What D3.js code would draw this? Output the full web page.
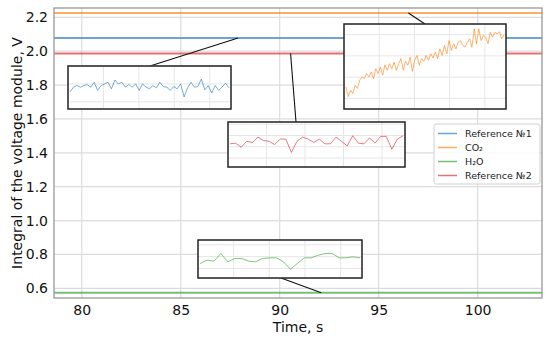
<!DOCTYPE html>
<html>
<head>
<meta charset="utf-8">
<script src="https://cdn.jsdelivr.net/npm/d3@7"></script>
<style>
  body { margin: 0; background: #fff; }
  text { font-family: "DejaVu Sans", sans-serif; }
</style>
</head>
<body>
<div id="chart"></div>
<script>
// main series, sampled at the ends of the window (flat at this scale)
const mainTime = [78.6, 103.25];
const ref1Main = [2.078, 2.078];
const co2Main = [2.225, 2.225];
const h2oMain = [0.574, 0.574];
const ref2Main = [1.986, 1.986];

const xTicks = [80, 85, 90, 95, 100];
const yTicks = [0.6, 0.8, 1.0, 1.2, 1.4, 1.6, 1.8, 2.0, 2.2];

const seriesNames = ["Reference №1", "CO₂", "H₂O", "Reference №2"];
const seriesColors = ["#1f77b4", "#ff7f0e", "#2ca02c", "#d62728"];

// zoomed readings shown in the insets
const ref1Zoom = [2.0755, 2.0782, 2.0791, 2.0782, 2.0791, 2.0796, 2.0782, 2.0809, 2.0764, 2.0791,
  2.0800, 2.0809, 2.0773, 2.0822, 2.0800, 2.0809, 2.0782, 2.0796, 2.0782, 2.0800,
  2.0764, 2.0800, 2.0782, 2.0773, 2.0791, 2.0778, 2.0809, 2.0785, 2.0782, 2.0764,
  2.0785, 2.0773, 2.0800, 2.0727, 2.0778, 2.0809, 2.0782, 2.0785, 2.0827, 2.0767,
  2.0791, 2.0749, 2.0791, 2.0764, 2.0782, 2.0804, 2.0778];
const co2Zoom = [2.2154, 2.2108, 2.2139, 2.2123, 2.2162, 2.2147, 2.2185, 2.2201, 2.2193, 2.2217,
  2.2201, 2.2224, 2.2193, 2.2240, 2.2217, 2.2248, 2.2209, 2.2256, 2.2232, 2.2263,
  2.2240, 2.2271, 2.2232, 2.2263, 2.2287, 2.2232, 2.2274, 2.2256, 2.2294, 2.2227,
  2.2279, 2.2302, 2.2256, 2.2287, 2.2274, 2.2302, 2.2279, 2.2310, 2.2290, 2.2318,
  2.2287, 2.2333, 2.2302, 2.2349, 2.2310, 2.2372, 2.2326, 2.2357, 2.2333, 2.2364,
  2.2372, 2.2349, 2.2341, 2.2364, 2.2380, 2.2341, 2.2427, 2.2357, 2.2427, 2.2372,
  2.2396, 2.2388, 2.2357, 2.2411, 2.2388, 2.2411, 2.2403, 2.2414, 2.2380, 2.2399];
const ref2Zoom = [1.9863, 1.9866, 1.9848, 1.9874, 1.9869, 1.9893, 1.9878, 1.9874, 1.9860, 1.9884,
  1.9884, 1.9825, 1.9874, 1.9893, 1.9884, 1.9869, 1.9884, 1.9863, 1.9863, 1.9893,
  1.9874, 1.9854, 1.9899, 1.9866, 1.9863, 1.9889, 1.9866, 1.9896, 1.9896, 1.9839,
  1.9884, 1.9899];
const h2oZoom = [0.5721, 0.5735, 0.5731, 0.5763, 0.5728, 0.5742, 0.5742, 0.5731, 0.5728, 0.5742,
  0.5745, 0.5745, 0.5728, 0.5697, 0.5721, 0.5745, 0.5745, 0.5756, 0.5763, 0.5763,
  0.5745, 0.5745, 0.5749, 0.5745];

const W = 550, H = 341;
const margin = {top: 8, right: 8, bottom: 43, left: 54};
const width = W - margin.left - margin.right,
      height = H - margin.top - margin.bottom;

const svg = d3.select("#chart").append("svg")
  .attr("width", W).attr("height", H);
const g = svg.append("g").attr("transform", `translate(${margin.left},${margin.top})`);

const x = d3.scaleLinear().domain([78.6, 103.25]).range([0, width]);
const y = d3.scaleLinear().domain([0.543, 2.255]).range([height, 0]);

// grid
g.append("g").selectAll("line").data(xTicks).join("line")
  .attr("x1", d => x(d)).attr("x2", d => x(d))
  .attr("y1", 0).attr("y2", height)
  .attr("stroke", "#dcdcdc").attr("stroke-width", 1.2);
g.append("g").selectAll("line").data(yTicks).join("line")
  .attr("y1", d => y(d)).attr("y2", d => y(d))
  .attr("x1", 0).attr("x2", width)
  .attr("stroke", "#dcdcdc").attr("stroke-width", 1.2);

// axes
const xAxis = g.append("g")
  .attr("transform", `translate(0,${height})`)
  .call(d3.axisBottom(x).tickValues(xTicks).tickSize(0).tickPadding(7).tickFormat(d3.format("d")));
const yAxis = g.append("g")
  .call(d3.axisLeft(y).tickValues(yTicks).tickSize(0).tickPadding(6).tickFormat(d3.format(".1f")));
[xAxis, yAxis].forEach(a => {
  a.select(".domain").remove();
  a.selectAll("text").attr("font-size", 14).attr("fill", "#111")
    .style("font-family", "DejaVu Sans, sans-serif");
});

// main lines
const mainSeries = [ref1Main, co2Main, h2oMain, ref2Main];
const mainLine = d3.line().x((d, i) => x(mainTime[i])).y(d => y(d));
mainSeries.forEach((s, i) => {
  g.append("path").datum(s)
    .attr("d", mainLine)
    .attr("fill", "none")
    .attr("stroke", seriesColors[i])
    .attr("stroke-opacity", 0.65)
    .attr("stroke-width", 2);
});

// frame
g.append("rect").attr("width", width).attr("height", height)
  .attr("fill", "none").attr("stroke", "#999").attr("stroke-width", 1.3);

// insets: box in page pixels, the anchor on the main line in data coords
const insets = [
  {values: ref1Zoom, color: seriesColors[0], box: [68, 66, 163, 43], dom: [2.066, 2.090],
   from: [150, 66], at: [87.9, 2.078]},
  {values: co2Zoom, color: seriesColors[1], box: [344, 24, 162, 85], dom: [2.205, 2.245],
   from: [425, 24], at: [96.5, 2.225]},
  {values: ref2Zoom, color: seriesColors[3], box: [228, 122, 177, 45], dom: [1.976, 1.996],
   from: [296, 122], at: [90.55, 1.986]},
  {values: h2oZoom, color: seriesColors[2], box: [198, 240, 164, 38], dom: [0.566, 0.582],
   from: [281, 278], at: [92.1, 0.574]}
];

insets.forEach(ins => {
  const [bx, by, bw, bh] = ins.box;
  svg.append("line")
    .attr("x1", ins.from[0]).attr("y1", ins.from[1])
    .attr("x2", margin.left + x(ins.at[0])).attr("y2", margin.top + y(ins.at[1]))
    .attr("stroke", "#111").attr("stroke-width", 1.1);

  const ig = svg.append("g").attr("transform", `translate(${bx},${by})`);
  ig.append("rect").attr("width", bw).attr("height", bh).attr("fill", "#fff");

  const ix = d3.scaleLinear().domain([0, ins.values.length - 1]).range([2, bw - 2]);
  const iy = d3.scaleLinear().domain(ins.dom).range([bh, 0]);

  ig.append("g").selectAll("line").data(d3.range(1, 5)).join("line")
    .attr("x1", d => bw * d / 4.6).attr("x2", d => bw * d / 4.6)
    .attr("y1", 0).attr("y2", bh)
    .attr("stroke", "#e6e6e6");
  ig.append("g").selectAll("line").data(iy.ticks(3)).join("line")
    .attr("y1", d => iy(d)).attr("y2", d => iy(d))
    .attr("x1", 0).attr("x2", bw)
    .attr("stroke", "#e6e6e6");

  ig.append("path").datum(ins.values)
    .attr("d", d3.line().x((d, i) => ix(i)).y(d => iy(d)))
    .attr("fill", "none")
    .attr("stroke", ins.color)
    .attr("stroke-opacity", 0.6)
    .attr("stroke-width", 1);

  ig.append("rect").attr("width", bw).attr("height", bh)
    .attr("fill", "none").attr("stroke", "#222").attr("stroke-width", 1.5);
});

// legend
const lg = svg.append("g").attr("transform", "translate(434,124)");
lg.append("rect").attr("width", 106).attr("height", 60).attr("rx", 2)
  .attr("fill", "#fff").attr("fill-opacity", 0.85)
  .attr("stroke", "#d0d0d0");
seriesNames.forEach((name, i) => {
  const yy = 9.5 + i * 14;
  lg.append("line").attr("x1", 4).attr("x2", 23).attr("y1", yy).attr("y2", yy)
    .attr("stroke", seriesColors[i]).attr("stroke-opacity", 0.65).attr("stroke-width", 1.5);
  lg.append("text").attr("x", 31).attr("y", yy + 3.3)
    .attr("font-size", 9.5).attr("fill", "#222").text(name);
});

// axis labels
svg.append("text")
  .attr("x", margin.left + width / 2).attr("y", 332)
  .attr("text-anchor", "middle").attr("font-size", 14).attr("fill", "#111")
  .text("Time, s");
svg.append("text")
  .attr("transform", `translate(22,${margin.top + height / 2}) rotate(-90)`)
  .attr("text-anchor", "middle").attr("font-size", 14).attr("fill", "#111")
  .text("Integral of the voltage module, V");
</script>
</body>
</html>
